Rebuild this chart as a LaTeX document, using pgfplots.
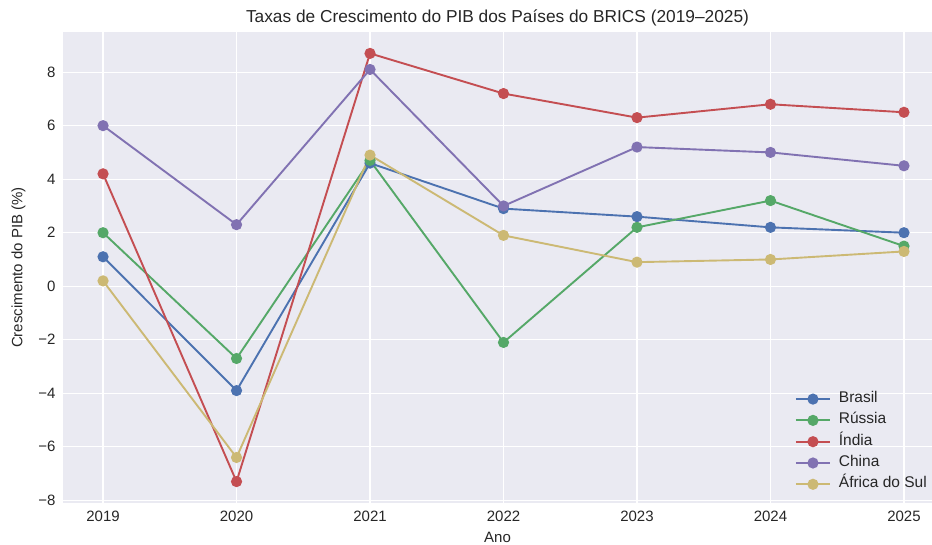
\documentclass[border=0pt]{standalone}
\usepackage{fontspec}
\setmainfont{Liberation Sans}
\usepackage{pgfplots}
\pgfplotsset{compat=1.18}
\definecolor{bg}{HTML}{EAEAF2}
\definecolor{txt}{HTML}{262626}
\definecolor{cB}{HTML}{4C72B0}
\definecolor{cR}{HTML}{55A868}
\definecolor{cI}{HTML}{C44E52}
\definecolor{cC}{HTML}{8172B2}
\definecolor{cA}{HTML}{CCB974}
\begin{document}
\begin{tikzpicture}
\begin{axis}[
  at={(0,0)}, anchor=south west,
  scale only axis, width=869pt, height=471pt,
  xmin=2018.7, xmax=2025.21, ymin=-8.1, ymax=9.5,
  axis background/.style={fill=bg},
  axis line style={draw=none},
  grid=major, major grid style={white, line width=1.1pt},
  major tick length=0pt,
  xtick={2019,2020,2021,2022,2023,2024,2025},
  xticklabels={2019,2020,2021,2022,2023,2024,2025},
  ytick={-8,-6,-4,-2,0,2,4,6,8},
  yticklabels={−8,−6,−4,−2,0,2,4,6,8},
  ticklabel style={font=\fontsize{15}{17}\selectfont, text=txt},
  xticklabel style={yshift=-4pt},
  yticklabel style={xshift=-4pt},
  title={Taxas de Crescimento do PIB dos Países do BRICS (2019–2025)},
  title style={font=\fontsize{17.3}{20}\selectfont, text=txt, yshift=-4pt},
  xlabel={Ano}, ylabel={Crescimento do PIB (\%)},
  label style={font=\fontsize{15}{17}\selectfont, text=txt},
  xlabel style={yshift=-4pt},
  ylabel style={yshift=6pt},
  legend cell align=left,
  legend style={at={(1,0)}, anchor=south east, xshift=-3pt, yshift=10pt,
    draw=none, fill=none, inner sep=0pt, font=\fontsize{15.5}{18}\selectfont, text=txt,
    row sep=4.3pt,
    nodes={text height=10pt, text depth=3pt, inner sep=2pt},
    /tikz/column 1/.style={column sep=6pt}},
  legend image code/.code={\draw[#1, mark repeat=2, mark phase=2] plot coordinates {(0pt,0pt) (17pt,0pt) (34pt,0pt)};},
  every axis plot/.append style={line width=1.9pt, mark=*, mark size=4.6pt, mark options={solid}},
]
\addplot[cB] coordinates {(2019,1.1) (2020,-3.9) (2021,4.6) (2022,2.9) (2023,2.6) (2024,2.2) (2025,2.0)};
\addlegendentry{Brasil}
\addplot[cR] coordinates {(2019,2.0) (2020,-2.7) (2021,4.7) (2022,-2.1) (2023,2.2) (2024,3.2) (2025,1.5)};
\addlegendentry{Rússia}
\addplot[cI] coordinates {(2019,4.2) (2020,-7.3) (2021,8.7) (2022,7.2) (2023,6.3) (2024,6.8) (2025,6.5)};
\addlegendentry{Índia}
\addplot[cC] coordinates {(2019,6.0) (2020,2.3) (2021,8.1) (2022,3.0) (2023,5.2) (2024,5.0) (2025,4.5)};
\addlegendentry{China}
\addplot[cA] coordinates {(2019,0.2) (2020,-6.4) (2021,4.9) (2022,1.9) (2023,0.9) (2024,1.0) (2025,1.3)};
\addlegendentry{África do Sul}
\end{axis}
\pgfresetboundingbox
\path[use as bounding box] (-63pt,-42pt) rectangle (869pt,503pt);
\end{tikzpicture}
\end{document}
